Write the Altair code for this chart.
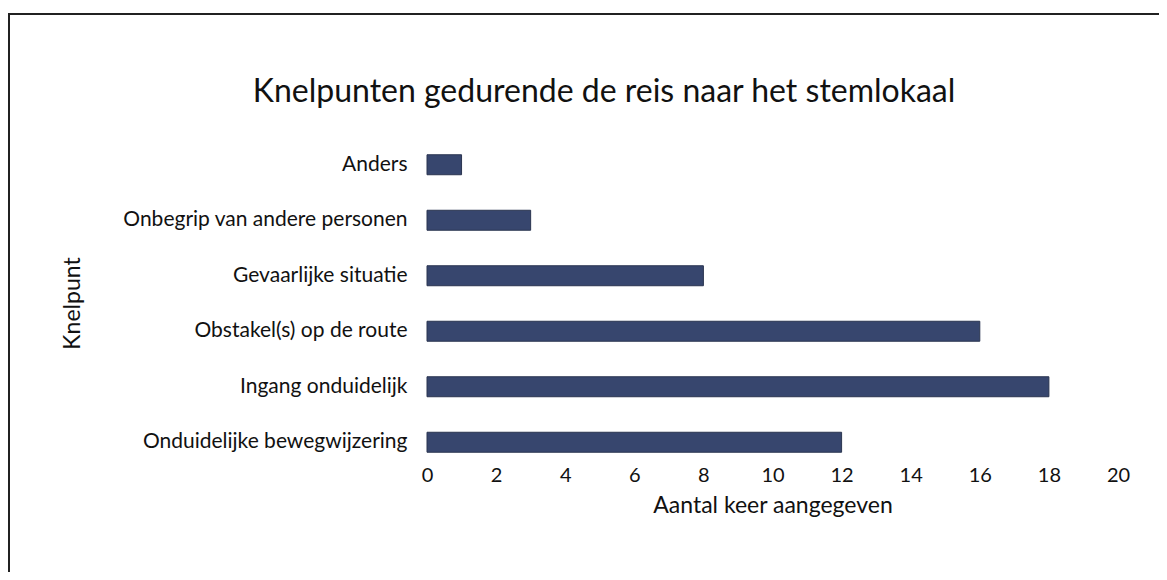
import altair as alt
import pandas as pd

categories = ["Anders", "Onbegrip van andere personen", "Gevaarlijke situatie",
              "Obstakel(s) op de route", "Ingang onduidelijk", "Onduidelijke bewegwijzering"]
values = [1, 3, 8, 16, 18, 12]
x_ticks = [0, 2, 4, 6, 8, 10, 12, 14, 16, 18, 20]
title_text = "Knelpunten gedurende de reis naar het stemlokaal"

df = pd.DataFrame({"Knelpunt": categories, "Aantal": values})
FONT = "Lato"

bars = alt.Chart(df).mark_bar(color="#37466e", stroke="#2a3550", strokeWidth=1).encode(
    x=alt.X("Aantal:Q", scale=alt.Scale(domain=[0, 20], nice=False),
            axis=alt.Axis(values=x_ticks, title="Aantal keer aangegeven", grid=False,
                          domain=False, ticks=False, labelPadding=-5, titlePadding=9,
                          labelFlush=False,
                          labelFontSize=20, titleFontSize=23, labelColor="#111",
                          titleColor="#111", labelFont=FONT, titleFont=FONT,
                          titleFontWeight="normal")),
    y=alt.Y("Knelpunt:N", sort=categories,
            scale=alt.Scale(paddingInner=0.64, paddingOuter=0.32),
            axis=alt.Axis(title="Knelpunt", grid=False, domain=False, ticks=False,
                          labelPadding=20, labelFontSize=21, titleFontSize=23,
                          labelLimit=400,
                          labelColor="#111", titleColor="#111", labelFont=FONT,
                          titleFont=FONT, titleFontWeight="normal",
                          titleX=-355, titleY=166, titleAngle=-90,
                          titleAlign="center", titleBaseline="middle")),
)

frame = alt.Chart(df).mark_rect(fill=None, stroke="#222", strokeWidth=1.5).encode(
    x=alt.value(-418), x2=alt.value(737), y=alt.value(-123), y2=alt.value(441)
)

title = alt.Chart(pd.DataFrame({"t": [title_text]})).mark_text(
    font=FONT, fontSize=32, color="#111", align="center", baseline="middle"
).encode(text="t:N", x=alt.value(177), y=alt.value(-45))

chart = alt.layer(frame, title, bars).properties(
    width=691, height=333,
    padding={"left": 419, "top": 129, "right": 41, "bottom": 102},
    autosize=alt.AutoSizeParams(type="none"),
    background="white",
).configure_view(stroke=None)

chart.save("out.html", embed_options={"renderer": "svg", "actions": False})
